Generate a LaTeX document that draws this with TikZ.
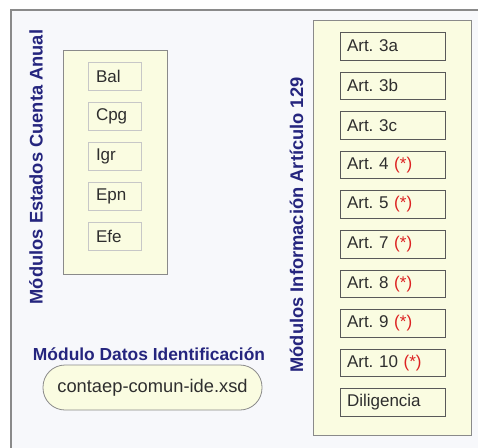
\documentclass[tikz,border=0pt]{standalone}
\usepackage{fontspec}
\setmainfont{Liberation Sans}
\usetikzlibrary{positioning}
\definecolor{panelfill}{HTML}{FAFCE1}
\definecolor{framegray}{HTML}{8A8A8A}
\definecolor{titleblue}{HTML}{25257E}
\definecolor{starred}{HTML}{DD2222}
\definecolor{pagebg}{HTML}{F7F8FB}
\definecolor{textgray}{HTML}{2E2E2E}
\frenchspacing
\tikzset{
x=1pt,y=-1pt,
node distance=11.7pt,
panel/.style={draw=framegray,fill=panelfill,line width=1pt},
modbox/.style={draw=black!22,minimum height=28pt,text width=37pt,align=left,inner xsep=8pt,inner ysep=0pt,
  text=textgray,font=\fontsize{17}{19}\selectfont},
artbox/.style={draw=black!65,fill=panelfill,minimum height=27.5pt,text width=91pt,align=left,inner xsep=7pt,inner ysep=0pt,
  text=textgray,font=\fontsize{17}{19}\selectfont},
xsdbox/.style={draw=framegray,fill=panelfill,line width=0.8pt,rounded corners=22pt,minimum width=219pt,minimum height=45pt,
  text=textgray,font=\fontsize{18.3}{20}\selectfont},
heading/.style={text=titleblue,font=\bfseries\fontsize{17.4}{19}\selectfont,inner sep=0pt},
vheading/.style={heading,rotate=90,font=\bfseries\fontsize{18.3}{20}\selectfont}
}
\begin{document}
\begin{tikzpicture}
\useasboundingbox (0,0) rectangle (478,447);
\fill[white] (0,0) rectangle (478,447);
\draw[framegray,fill=pagebg,line width=1.2pt] (11,10) rectangle (495,465);

% cuenta anual
\draw[panel] (63,50) rectangle (167,274);
\node[modbox] (bal) at (114.5,76) {Bal};
\node[modbox] (cpg) [below=of bal] {Cpg};
\node[modbox] (igr) [below=of cpg] {Igr};
\node[modbox] (epn) [below=of igr] {Epn};
\node[modbox] (efe) [below=of epn] {Efe};
\node[vheading] (anual) at (36,167) {Módulos Estados Cuenta Anual};

% articulo 129
\draw[panel] (313,20) rectangle (471,435);
\node[artbox] (art3a) at (392.5,46) {Art. 3a};
\node[artbox] (art3b) [below=of art3a] {Art. 3b};
\node[artbox] (art3c) [below=of art3b] {Art. 3c};
\node[artbox] (art4) [below=of art3c] {Art. 4 \textcolor{starred}{(*)}};
\node[artbox] (art5) [below=of art4] {Art. 5 \textcolor{starred}{(*)}};
\node[artbox] (art7) [below=of art5] {Art. 7 \textcolor{starred}{(*)}};
\node[artbox] (art8) [below=of art7] {Art. 8 \textcolor{starred}{(*)}};
\node[artbox] (art9) [below=of art8] {Art. 9 \textcolor{starred}{(*)}};
\node[artbox] (art10) [below=of art9] {Art. 10 \textcolor{starred}{(*)}};
\node[artbox] (dilig) [below=of art10] {Diligencia};
\node[vheading] (art129) at (296.5,225) {Módulos Información Artículo 129};

% identificacion
\node[heading] (ident) at (149,354) {Módulo Datos Identificación};
\node[xsdbox] (xsd) at (152.5,387.5) {contaep-comun-ide.xsd};
\end{tikzpicture}
\end{document}
